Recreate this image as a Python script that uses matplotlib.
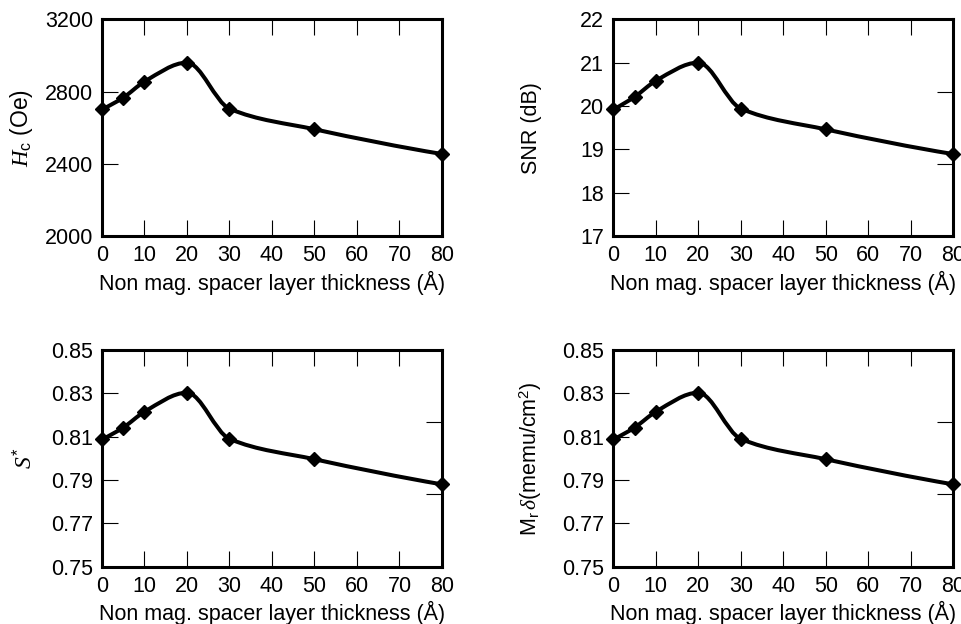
import numpy as np
import matplotlib
matplotlib.use("Agg")
import matplotlib.pyplot as plt
from matplotlib.path import Path
from matplotlib.patches import PathPatch
from matplotlib.ticker import FixedLocator

plt.rcParams['font.family'] = ['Liberation Sans', 'DejaVu Sans']
plt.rcParams['mathtext.fontset'] = 'custom'
plt.rcParams['mathtext.rm'] = 'Liberation Sans'
plt.rcParams['mathtext.it'] = 'Liberation Serif:italic'
plt.rcParams['mathtext.sf'] = 'Liberation Sans'

# 資料
thickness = [0, 5, 10, 20, 30, 50, 80]
hc = [2702, 2766, 2855, 2960, 2705, 2591, 2454]
snr = [19.92, 20.21, 20.58, 21.0, 19.94, 19.46, 18.89]
s_star = [0.8088, 0.8142, 0.8215, 0.8303, 0.809, 0.7996, 0.788]
mr_delta = [0.8088, 0.8142, 0.8215, 0.8303, 0.809, 0.7996, 0.788]

x_ticks = [0, 10, 20, 30, 40, 50, 60, 70, 80]
hc_ticks = [2000, 2400, 2800, 3200]
snr_ticks = [17, 18, 19, 20, 21, 22]
s_ticks = [0.75, 0.77, 0.79, 0.81, 0.83, 0.85]
xlabel = "Non mag. spacer layer thickness (Å)"


def pchip_slopes(x, y):
    """單調三次插值的切線斜率（只用來畫平滑曲線）"""
    x = np.asarray(x, float)
    y = np.asarray(y, float)
    h = np.diff(x)
    d = np.diff(y) / h
    n = len(x)
    m = np.zeros(n)
    for k in range(1, n - 1):
        if d[k - 1] * d[k] <= 0:
            m[k] = 0.0
        else:
            w1 = 2 * h[k] + h[k - 1]
            w2 = h[k] + 2 * h[k - 1]
            m[k] = (w1 + w2) / (w1 / d[k - 1] + w2 / d[k])

    def end(h0, h1, d0, d1):
        s = ((2 * h0 + h1) * d0 - h0 * d1) / (h0 + h1)
        if np.sign(s) != np.sign(d0):
            s = 0.0
        elif np.sign(d0) != np.sign(d1) and abs(s) > 3 * abs(d0):
            s = 3 * d0
        return s

    m[0] = end(h[0], h[1], d[0], d[1])
    m[-1] = end(h[-1], h[-2], d[-1], d[-2])
    return m


def smooth_path(x, y):
    m = pchip_slopes(x, y)
    verts = [(x[0], y[0])]
    codes = [Path.MOVETO]
    for i in range(len(x) - 1):
        h = (x[i + 1] - x[i]) / 3.0
        verts += [(x[i] + h, y[i] + m[i] * h),
                  (x[i + 1] - h, y[i + 1] - m[i + 1] * h),
                  (x[i + 1], y[i + 1])]
        codes += [Path.CURVE4] * 3
    return Path(verts, codes)


def draw_panel(fig, rect, yvals, yticks, ylabel, fmt, ylabel_x, xlabel_y, ylabel_size):
    ax = fig.add_axes(rect)
    ax.add_patch(PathPatch(smooth_path(thickness, yvals), fill=False,
                           lw=2.9, edgecolor='black', capstyle='round',
                           joinstyle='round', zorder=3))
    ax.plot(thickness, yvals, linestyle='none', marker='D', markersize=7,
            color='black', clip_on=False, zorder=4)
    ax.set_xlim(0, 80)
    ax.set_ylim(yticks[0], yticks[-1])
    ax.set_xticks(x_ticks)
    ax.set_xticklabels([str(t) for t in x_ticks])
    ax.set_yticks(yticks)
    ax.set_yticklabels([fmt.format(t) for t in yticks])
    lo, hi = yticks[0], yticks[-1]
    ax.yaxis.set_minor_locator(FixedLocator([lo + (hi - lo) / 3, lo + 2 * (hi - lo) / 3]))
    ax.tick_params(which='major', direction='in', length=11.5, width=0.8,
                   top=True, bottom=True, left=True, right=False,
                   labelsize=15.5, pad=6.5)
    ax.tick_params(which='minor', direction='in', length=11.5, width=0.8,
                   left=False, right=True)
    for sp in ax.spines.values():
        sp.set_linewidth(2.2)
    ax.set_xlabel(xlabel, fontsize=15.5, va='center')
    ax.xaxis.set_label_coords(0.5, xlabel_y)
    ax.set_ylabel(ylabel, fontsize=ylabel_size, va='center')
    ax.yaxis.set_label_coords(ylabel_x, 0.5)
    return ax


fig = plt.figure(figsize=(9.62, 6.24), dpi=100)
w, h = 0.3534, 0.3473
draw_panel(fig, [0.1060, 0.6218, w, h], hc, hc_ticks,
           r"$H_\mathrm{c}$ (Oe)", "{:d}", -0.238, -0.217, 16.5)
draw_panel(fig, [0.6375, 0.6218, w, h], snr, snr_ticks,
           "SNR (dB)", "{:d}", -0.24, -0.217, 15.5)
draw_panel(fig, [0.1060, 0.0918, w, h], s_star, s_ticks,
           r"$S^{*}$", "{:.2f}", -0.225, -0.215, 17)
draw_panel(fig, [0.6375, 0.0918, w, h], mr_delta, s_ticks,
           r"M$_\mathrm{r}\,\delta$(memu/cm$^2$)", "{:.2f}", -0.243, -0.215, 15.5)

fig.savefig("out.png", dpi=100)
